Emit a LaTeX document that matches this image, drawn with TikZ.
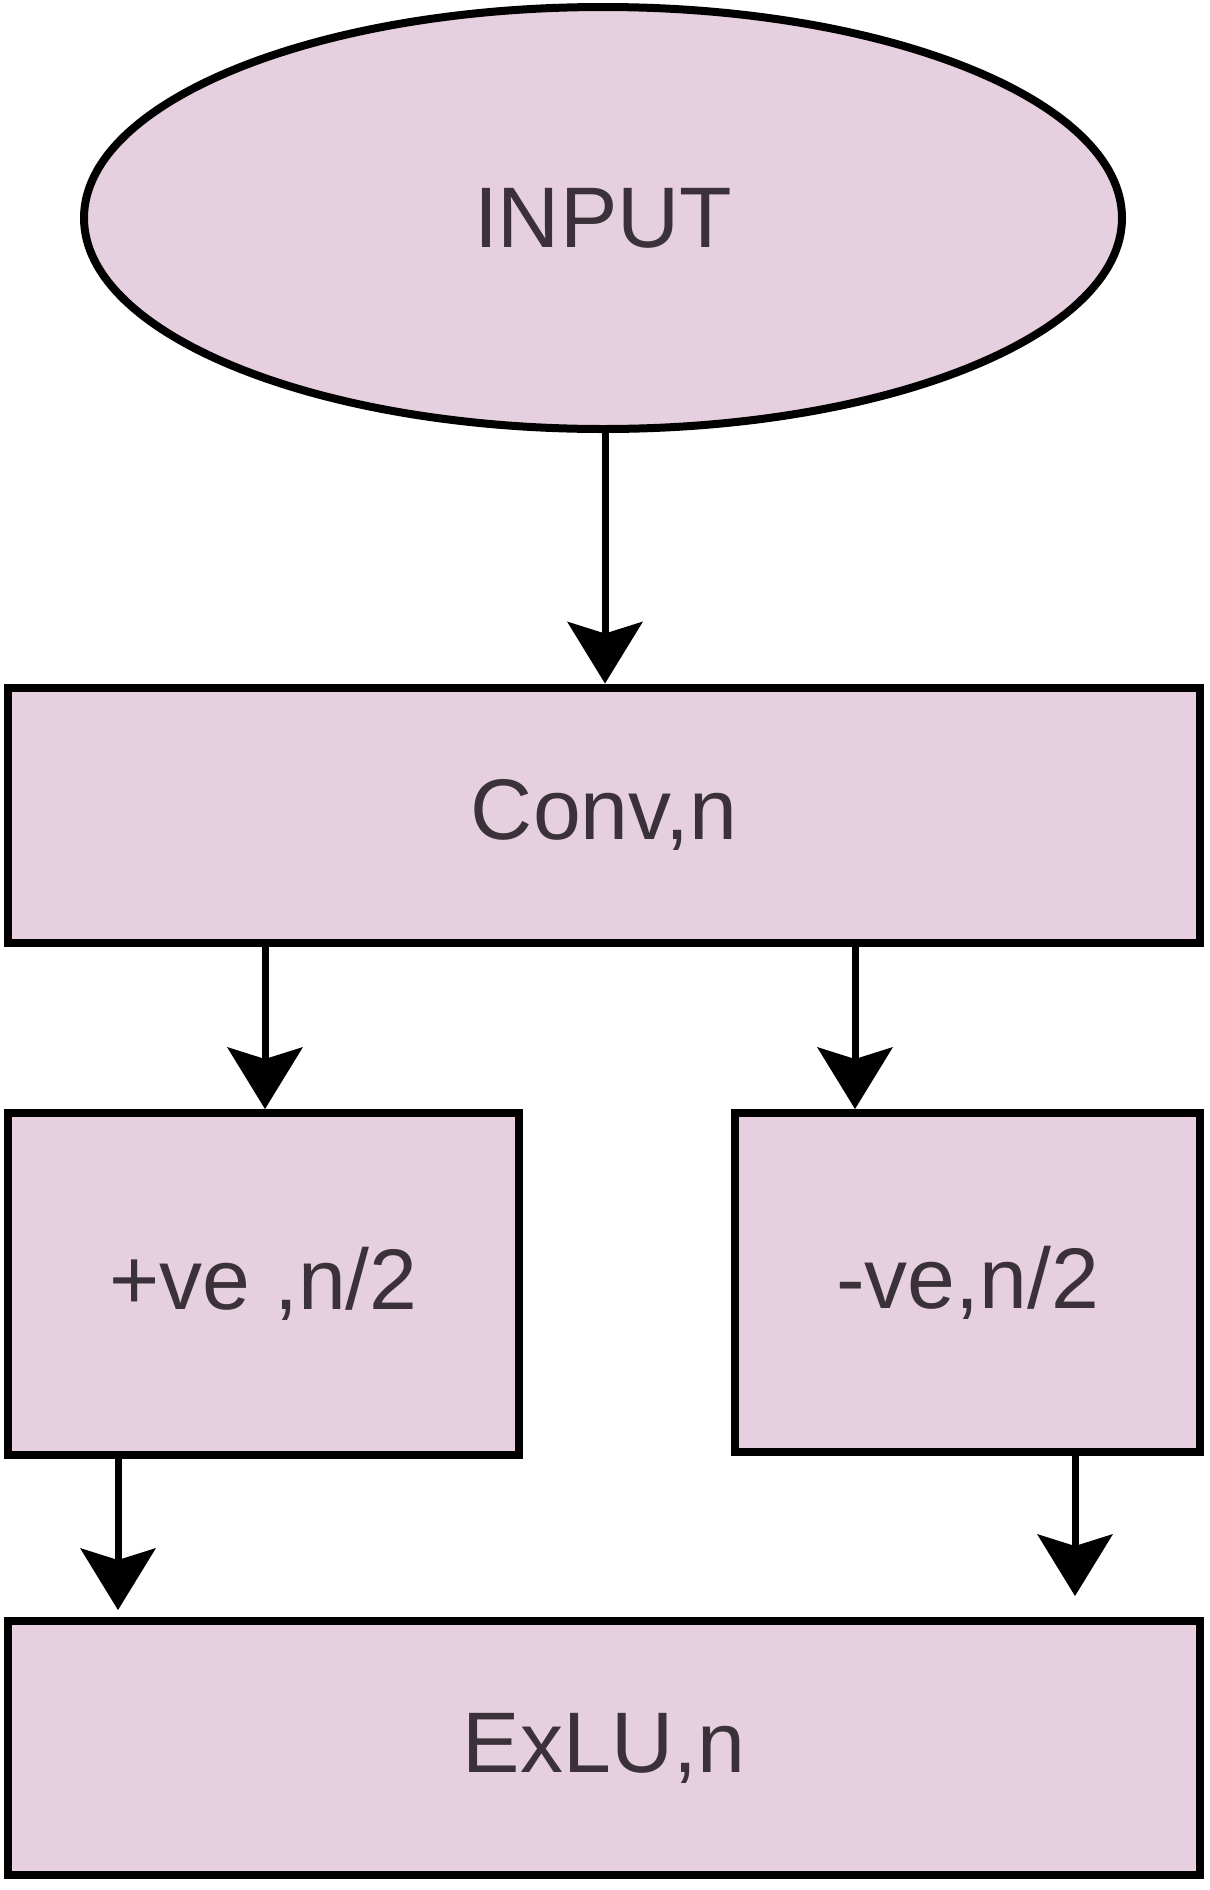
\documentclass[tikz,border=0pt]{standalone}
\usepackage{fontspec}
\setmainfont{Liberation Sans}
\usetikzlibrary{shapes.geometric,arrows.meta}
\definecolor{boxfill}{RGB}{230,208,224}
\definecolor{txt}{RGB}{58,50,56}
\begin{document}
\begin{tikzpicture}[x=1pt,y=-1pt,
  blk/.style={draw=black,line width=8pt,fill=boxfill,text=txt,inner sep=0pt,
    font=\fontsize{86}{100}\selectfont},
  boxnode/.style={blk,rectangle,anchor=center},
  ovalnode/.style={blk,ellipse},
  conn/.style={line width=7pt,-{Stealth[length=62pt,width=76pt,inset=12pt,line width=0pt]}}]
\useasboundingbox[fill=white] (0,0) rectangle (1210,1890);
\node[ovalnode,minimum width=1038pt,minimum height=422pt] (inp) at (603,218) {INPUT};
\node[boxnode,minimum width=1192pt,minimum height=255pt] (conv) at (604,815) {Conv,n};
\node[boxnode,minimum width=511pt,minimum height=342pt] (pos) at (263.5,1284) {+ve ,n/2};
\node[boxnode,minimum width=465pt,minimum height=339pt] (neg) at (967.5,1282.5) {-ve,n/2};
\node[boxnode,minimum width=1192pt,minimum height=254pt] (exlu) at (604,1748) {ExLU,n};
\coordinate (c4) at (118,1610);
\coordinate (c5) at (1075,1596);
\draw[conn] (inp.south -| 605,0) -- (conv.north -| 605,0);
\draw[conn] (conv.south -| 265,0) -- (pos.north -| 265,0);
\draw[conn] (conv.south -| 855,0) -- (neg.north -| 855,0);
\draw[conn] (pos.south -| c4) -- (c4);
\draw[conn] (neg.south -| c5) -- (c5);
\end{tikzpicture}
\end{document}
